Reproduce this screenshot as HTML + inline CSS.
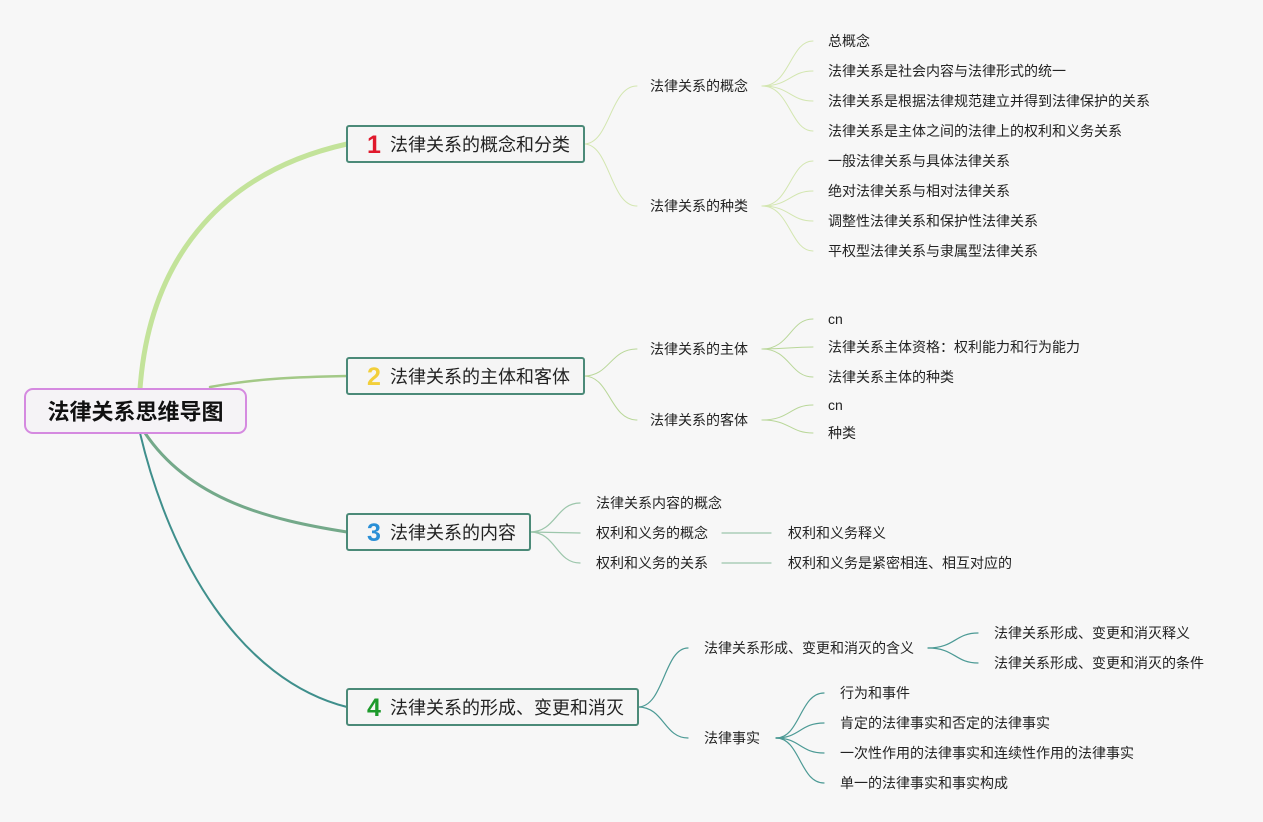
<!DOCTYPE html>
<html><head><meta charset="utf-8"><style>
html,body{margin:0;padding:0;background:#f7f7f7;}
svg{display:block;}
text{font-family:"Liberation Sans","Noto Sans CJK SC",sans-serif;fill:#222;dominant-baseline:central;}
.s{font-size:14px;}
.m{font-size:18px;}
</style></head><body>
<svg width="1263" height="822" viewBox="0 0 1263 822" xmlns="http://www.w3.org/2000/svg">
<g fill="none" stroke-linecap="round">
<path d="M140 389 C150 250 230 170 347 144" stroke="#c3e39a" stroke-width="5"/>
<path d="M210 387 C260 378 300 377 347 376" stroke="#a3c987" stroke-width="2.5"/>
<path d="M145 433 C190 500 270 520 347 532" stroke="#74a98a" stroke-width="3"/>
<path d="M140 433 C170 560 240 680 347 707" stroke="#3f8f8c" stroke-width="2"/>
<g stroke="#d3e6b0" stroke-width="1">
<path d="M584 144 C610 144 610 86 637 86"/>
<path d="M584 144 C610 144 610 206 637 206"/>
<path d="M762 86 C790 86 790 41 813 41"/>
<path d="M762 86 C790 86 790 71 813 71"/>
<path d="M762 86 C790 86 790 101 813 101"/>
<path d="M762 86 C790 86 790 131 813 131"/>
<path d="M762 206 C790 206 790 161 813 161"/>
<path d="M762 206 C790 206 790 191 813 191"/>
<path d="M762 206 C790 206 790 221 813 221"/>
<path d="M762 206 C790 206 790 251 813 251"/>
</g>
<g stroke="#b9d799" stroke-width="1">
<path d="M584 376 C610 376 610 349 637 349"/>
<path d="M584 376 C610 376 610 420 637 420"/>
<path d="M762 349 C790 349 790 319 813 319"/>
<path d="M762 349 C790 349 790 347 813 347"/>
<path d="M762 349 C790 349 790 377 813 377"/>
<path d="M762 420 C790 420 790 405 813 405"/>
<path d="M762 420 C790 420 790 433 813 433"/>
</g>
<g stroke="#9cc6ab" stroke-width="1.2">
<path d="M530 532 C556 532 556 503 580 503"/>
<path d="M530 532 L580 533"/>
<path d="M530 532 C556 532 556 563 580 563"/>
<path d="M722 533 L771 533"/>
<path d="M722 563 L771 563"/>
</g>
<g stroke="#4c9a95" stroke-width="1.2">
<path d="M638 707 C664 707 664 648 688 648"/>
<path d="M638 707 C664 707 664 738 688 738"/>
<path d="M928 648 C955 648 955 633 978 633"/>
<path d="M928 648 C955 648 955 663 978 663"/>
<path d="M776 738 C800 738 800 693 824 693"/>
<path d="M776 738 C800 738 800 723 824 723"/>
<path d="M776 738 C800 738 800 753 824 753"/>
<path d="M776 738 C800 738 800 783 824 783"/>
</g>
</g>
<rect x="25" y="389" width="221" height="44" rx="8" fill="#f5f3f6" stroke="#d58ae0" stroke-width="2"/>
<text x="135.5" y="412" text-anchor="middle" style="font-size:22px;font-weight:bold;fill:#111">法律关系思维导图</text>
<g fill="#f5f5f5" stroke="#4b8a78" stroke-width="2">
<rect x="347" y="126" width="237" height="36" rx="2"/>
<rect x="347" y="358" width="237" height="36" rx="2"/>
<rect x="347" y="514" width="183" height="36" rx="2"/>
<rect x="347" y="689" width="291" height="36" rx="2"/>
</g>
<text x="374" y="145" text-anchor="middle" style="font-size:25px;font-weight:bold;fill:#e0192c">1</text>
<text x="374" y="377" text-anchor="middle" style="font-size:25px;font-weight:bold;fill:#f2cf3a">2</text>
<text x="374" y="533" text-anchor="middle" style="font-size:25px;font-weight:bold;fill:#2a8fd6">3</text>
<text x="374" y="708" text-anchor="middle" style="font-size:25px;font-weight:bold;fill:#1d9a2c">4</text>
<text class="m" x="390" y="145">法律关系的概念和分类</text>
<text class="m" x="390" y="377">法律关系的主体和客体</text>
<text class="m" x="390" y="533">法律关系的内容</text>
<text class="m" x="390" y="708">法律关系的形成、变更和消灭</text>
<text class="s" x="650" y="86">法律关系的概念</text>
<text class="s" x="650" y="206">法律关系的种类</text>
<text class="s" x="828" y="41">总概念</text>
<text class="s" x="828" y="71">法律关系是社会内容与法律形式的统一</text>
<text class="s" x="828" y="101">法律关系是根据法律规范建立并得到法律保护的关系</text>
<text class="s" x="828" y="131">法律关系是主体之间的法律上的权利和义务关系</text>
<text class="s" x="828" y="161">一般法律关系与具体法律关系</text>
<text class="s" x="828" y="191">绝对法律关系与相对法律关系</text>
<text class="s" x="828" y="221">调整性法律关系和保护性法律关系</text>
<text class="s" x="828" y="251">平权型法律关系与隶属型法律关系</text>
<text class="s" x="650" y="349">法律关系的主体</text>
<text class="s" x="650" y="420">法律关系的客体</text>
<text class="s" x="828" y="319">cn</text>
<text class="s" x="828" y="347">法律关系主体资格：权利能力和行为能力</text>
<text class="s" x="828" y="377">法律关系主体的种类</text>
<text class="s" x="828" y="405">cn</text>
<text class="s" x="828" y="433">种类</text>
<text class="s" x="596" y="503">法律关系内容的概念</text>
<text class="s" x="596" y="533">权利和义务的概念</text>
<text class="s" x="596" y="563">权利和义务的关系</text>
<text class="s" x="788" y="533">权利和义务释义</text>
<text class="s" x="788" y="563">权利和义务是紧密相连、相互对应的</text>
<text class="s" x="704" y="648">法律关系形成、变更和消灭的含义</text>
<text class="s" x="704" y="738">法律事实</text>
<text class="s" x="994" y="633">法律关系形成、变更和消灭释义</text>
<text class="s" x="994" y="663">法律关系形成、变更和消灭的条件</text>
<text class="s" x="840" y="693">行为和事件</text>
<text class="s" x="840" y="723">肯定的法律事实和否定的法律事实</text>
<text class="s" x="840" y="753">一次性作用的法律事实和连续性作用的法律事实</text>
<text class="s" x="840" y="783">单一的法律事实和事实构成</text>
</svg>
</body></html>
